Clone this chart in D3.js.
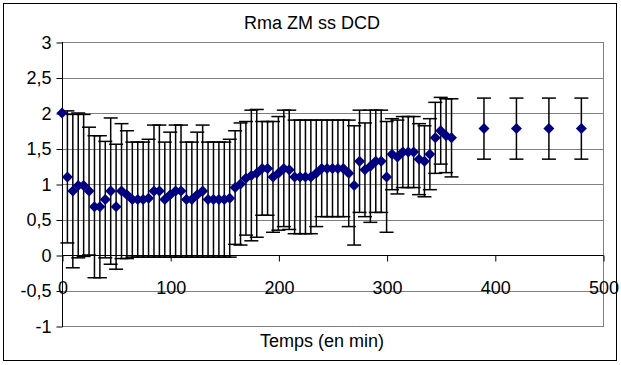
<!DOCTYPE html>
<html>
<head>
<meta charset="utf-8">
<script src="https://cdn.jsdelivr.net/npm/d3@7"></script>
<style>
  body { margin: 0; background: #fff; }
  svg { font-family: "Liberation Sans", Arial, sans-serif; }
</style>
</head>
<body>
<svg id="chart" width="621" height="365"></svg>
<script>
// Rma ZM ss DCD : moyenne +/- écart-type au cours du temps
const times = [
  0, 5, 10, 15, 20, 25, 30, 35, 40, 45, 50, 55, 60, 65, 70, 75, 80, 85, 90, 95,
  100, 105, 110, 115, 120, 125, 130, 135, 140, 145, 150, 155, 160, 165, 170, 175,
  180, 185, 190, 195, 200, 205, 210, 215, 220, 225, 230, 235, 240, 245, 250, 255,
  260, 265, 270, 275, 280, 285, 290, 295, 300, 305, 310, 315, 320, 325, 330, 335,
  340, 345, 350, 355, 360, 390, 420, 450, 480
];
const means = [
  2.0, 1.1, 0.9, 0.98, 0.98, 0.9, 0.68, 0.68, 0.78, 0.9, 0.68, 0.9, 0.85, 0.78, 0.78, 0.78, 0.8, 0.9, 0.9, 0.78,
  0.85, 0.9, 0.9, 0.78, 0.78, 0.85, 0.9, 0.78, 0.78, 0.78, 0.78, 0.8, 0.95, 1.0, 1.08, 1.12,
  1.15, 1.22, 1.22, 1.1, 1.15, 1.22, 1.2, 1.1, 1.1, 1.1, 1.1, 1.15, 1.22, 1.22, 1.22, 1.22,
  1.22, 1.15, 0.98, 1.32, 1.2, 1.25, 1.32, 1.32, 1.1, 1.42, 1.38, 1.45, 1.45, 1.45, 1.35, 1.32,
  1.42, 1.65, 1.75, 1.68, 1.65, 1.78, 1.78, 1.78, 1.78
];
const sds = [
  0, 0.93, 1.08, 1.02, 1.0, 0.9, 1.0, 1.0, 0.82, 1.03, 0.88, 0.95, 0.9, 0.81, 0.81, 0.81, 0.83, 0.93, 0.93, 0.81,
  0.88, 0.93, 0.93, 0.81, 0.81, 0.88, 0.93, 0.81, 0.81, 0.81, 0.81, 0.83, 0.8, 0.86, 0.8, 0.92,
  0.9, 0.66, 0.66, 0.78, 0.8, 0.82, 0.84, 0.8, 0.8, 0.8, 0.8, 0.75, 0.68, 0.68, 0.68, 0.68,
  0.68, 0.75, 0.84, 0.72, 0.66, 0.79, 0.72, 0.72, 0.78, 0.5, 0.52, 0.5, 0.5, 0.5, 0.5, 0.5,
  0.5, 0.5, 0.47, 0.52, 0.55, 0.43, 0.43, 0.43, 0.43
];
const yTicks = [-1, -0.5, 0, 0.5, 1, 1.5, 2, 2.5, 3];
const xTicks = [0, 100, 200, 300, 400, 500];

const svg = d3.select("#chart");
const plotLeft = 62, plotRight = 603, plotTop = 42, plotBottom = 326;
const fontSize = 18;

const x = d3.scaleLinear().domain([0, 500]).range([plotLeft, plotRight]);
const y = d3.scaleLinear().domain([-1, 3]).range([plotBottom, plotTop]);

const data = times.map((t, i) => ({ t, m: means[i], sd: sds[i] }));

// outer frame
svg.append("rect")
  .attr("x", 3.5).attr("y", 3.5)
  .attr("width", 613).attr("height", 357)
  .attr("fill", "#fff").attr("stroke", "#000");

// gridlines + right border of the plot area
svg.append("g")
  .selectAll("line")
  .data(yTicks)
  .join("line")
  .attr("x1", plotLeft).attr("x2", plotRight)
  .attr("y1", (d) => Math.round(y(d)) + 0.5)
  .attr("y2", (d) => Math.round(y(d)) + 0.5)
  .attr("stroke", "#808080");

svg.append("line")
  .attr("x1", plotRight + 0.5).attr("x2", plotRight + 0.5)
  .attr("y1", plotTop).attr("y2", plotBottom + 1)
  .attr("stroke", "#808080");

// y axis (left)
const yAxis = svg.append("g")
  .attr("transform", `translate(${plotLeft + 0.5},0.5)`)
  .call(d3.axisLeft(y).tickValues(yTicks).tickSize(6).tickPadding(5)
    .tickFormat((d) => String(d).replace(".", ",")));
yAxis.select(".domain").attr("stroke", "#000").attr("d", `M0,${y(3) - 0.5}V${y(-1) + 0.5}`);
yAxis.selectAll("line").attr("stroke", "#000");
yAxis.selectAll("text")
  .attr("font-size", fontSize).attr("font-family", "Liberation Sans, Arial, sans-serif")
  .attr("fill", "#000");

// x axis at y = 0
const xAxis = svg.append("g")
  .attr("transform", `translate(0.5,${Math.round(y(0)) + 0.5})`)
  .call(d3.axisBottom(x).tickValues(xTicks).tickSize(6).tickPadding(0));
xAxis.select(".domain").attr("stroke", "#000").attr("d", `M${plotLeft},0H${plotRight}`);
xAxis.selectAll("line").attr("stroke", "#000");
xAxis.selectAll("text")
  .attr("font-size", fontSize).attr("font-family", "Liberation Sans, Arial, sans-serif")
  .attr("fill", "#000")
  .attr("dy", null)
  .attr("y", 38);

// error bars
const cap = 7;
const bars = svg.append("g").attr("stroke", "#000").attr("stroke-width", 1.5)
  .selectAll("g")
  .data(data.filter((d) => d.sd > 0))
  .join("g");
bars.append("line")
  .attr("x1", (d) => x(d.t)).attr("x2", (d) => x(d.t))
  .attr("y1", (d) => y(d.m + d.sd)).attr("y2", (d) => y(d.m - d.sd));
bars.append("line")
  .attr("x1", (d) => x(d.t) - cap).attr("x2", (d) => x(d.t) + cap)
  .attr("y1", (d) => y(d.m + d.sd)).attr("y2", (d) => y(d.m + d.sd));
bars.append("line")
  .attr("x1", (d) => x(d.t) - cap).attr("x2", (d) => x(d.t) + cap)
  .attr("y1", (d) => y(d.m - d.sd)).attr("y2", (d) => y(d.m - d.sd));

// diamond markers
const r = 5.5;
svg.append("g")
  .selectAll("path")
  .data(data)
  .join("path")
  .attr("d", (d) => {
    const cx = x(d.t), cy = y(d.m);
    return `M${cx},${cy - r}L${cx + r},${cy}L${cx},${cy + r}L${cx - r},${cy}Z`;
  })
  .attr("fill", "#000080");

// title
svg.append("text")
  .attr("x", 312).attr("y", 29)
  .attr("text-anchor", "middle")
  .attr("font-size", fontSize)
  .text("Rma ZM ss DCD");

// x label
svg.append("text")
  .attr("x", 322).attr("y", 347)
  .attr("text-anchor", "middle")
  .attr("font-size", fontSize)
  .text("Temps (en min)");
</script>
</body>
</html>
